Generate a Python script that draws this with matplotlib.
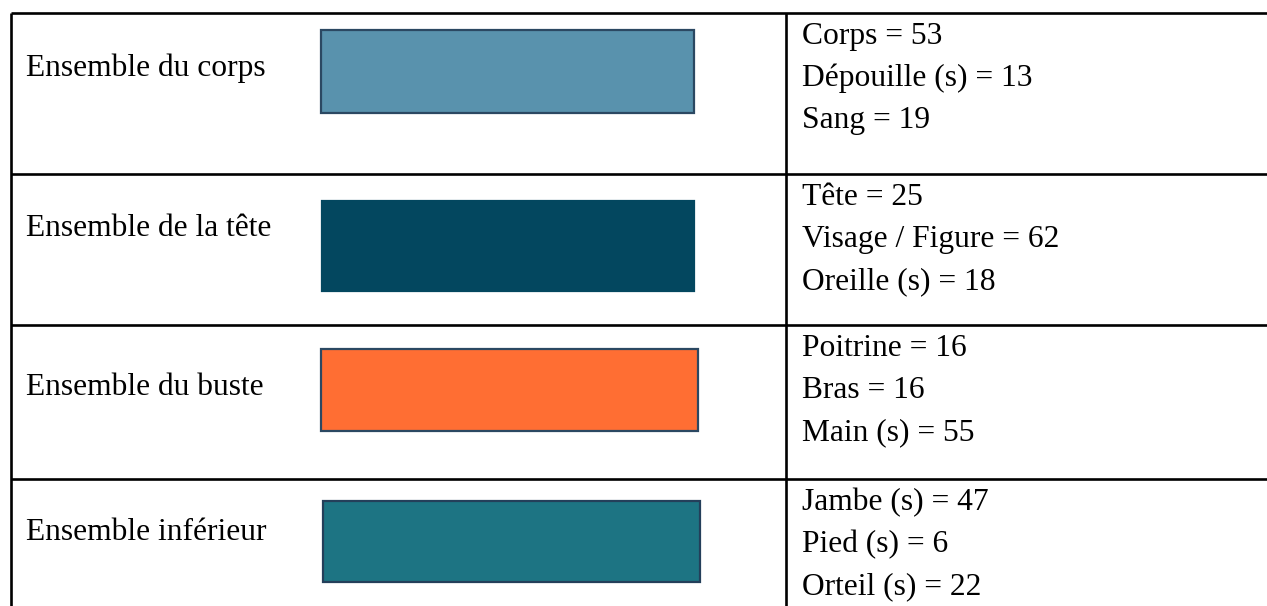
import matplotlib
matplotlib.use('Agg')
import matplotlib.pyplot as plt

# Table content
groups = ['Ensemble du corps', 'Ensemble de la tête', 'Ensemble du buste', 'Ensemble inférieur']
parts = [['Corps', 'Dépouille (s)', 'Sang'],
         ['Tête', 'Visage / Figure', 'Oreille (s)'],
         ['Poitrine', 'Bras', 'Main (s)'],
         ['Jambe (s)', 'Pied (s)', 'Orteil (s)']]
counts = [[53, 13, 19],
          [25, 62, 18],
          [16, 16, 55],
          [47, 6, 22]]
fills = ['#5992ad', '#03475f', '#ff6e33', '#1d7483']
edges = ['#2b4862', '#03475f', '#2b4862', '#243f5a']

# Layout in pixel units (figure is 1267 x 606)
row_lines = [13, 174, 325, 479]
left_x, col_x = 11, 786
label_base = [76, 236, 395, 540]
box_x0 = [321, 322, 321, 323]
box_x1 = [694, 694, 698, 700]
box_y0 = [30, 201, 349, 501]
box_y1 = [113, 291, 431, 582]

fig = plt.figure(figsize=(12.67, 6.06), dpi=100)
ax = fig.add_axes([0, 0, 1, 1])
ax.set_xlim(0, 1267)
ax.set_ylim(606, 0)
ax.axis('off')

font = dict(family='Liberation Serif', fontsize=22.7, color='black', va='baseline')

# grid lines
ax.hlines(row_lines, left_x, 1267, color='black', lw=1.9)
ax.vlines([left_x, col_x], row_lines[0], 606, color='black', lw=1.9)

for i, g in enumerate(groups):
    ax.text(26, label_base[i], g, **font)
    ax.barh((box_y0[i] + box_y1[i]) / 2, box_x1[i] - box_x0[i], left=box_x0[i],
            height=box_y1[i] - box_y0[i], color=fills[i], edgecolor=edges[i], lw=1.6)
    for j, (p, c) in enumerate(zip(parts[i], counts[i])):
        ax.text(802, row_lines[i] + 31 + 42 * j, f'{p} = {c}', **font)

fig.savefig('out.png', dpi=100)
